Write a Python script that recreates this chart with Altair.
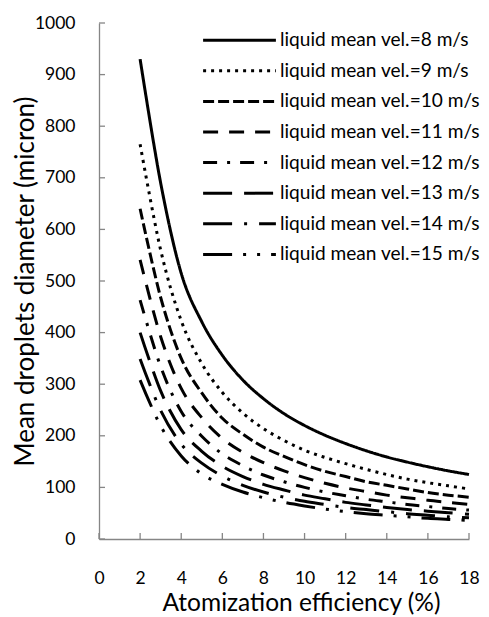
import altair as alt
import pandas as pd

# Atomization efficiency (%) at which the curves are sampled
efficiency = [2, 3, 4, 5, 6, 7, 8, 9, 10, 11, 12, 13, 14, 15, 16, 17, 18]

velocities = [8, 9, 10, 11, 12, 13, 14, 15]

# Mean droplets diameter (micron)
d_v8 = [930, 690, 515, 421, 356, 308, 272, 243, 220, 201, 185, 171, 159, 149, 140, 132, 125]
d_v9 = [765, 560, 423, 340, 284, 244, 214, 191, 172, 158, 146, 135, 125, 116, 109, 103, 97]
d_v10 = [640, 468, 350, 283, 234, 203, 178, 160, 144, 131, 121, 111, 104, 97, 90, 85, 81]
d_v11 = [541, 392, 292, 235, 195, 168, 148, 132, 119, 108, 99, 92, 85, 80, 75, 71, 67]
d_v12 = [463, 334, 247, 199, 165, 142, 124, 111, 100, 91, 84, 77, 72, 67, 63, 59, 56]
d_v13 = [400, 287, 212, 170, 141, 121, 106, 95, 85, 78, 71, 66, 61, 57, 54, 51, 48]
d_v14 = [349, 249, 184, 147, 122, 104, 91, 81, 73, 67, 61, 57, 53, 49, 46, 43, 41]
d_v15 = [308, 219, 161, 126, 106, 91, 80, 71, 64, 58, 53, 49, 46, 43, 40, 38, 36]

series = [d_v8, d_v9, d_v10, d_v11, d_v12, d_v13, d_v14, d_v15]
labels = [f"liquid mean vel.={v} m/s" for v in velocities]
dashes = [[1, 0], [3, 5], [11, 4], [15, 11], [14, 10, 3, 10],
          [29, 12], [29, 12, 3, 12], [29, 11, 3, 11, 3, 11]]

x_ticks = list(range(0, 19, 2))
y_ticks = list(range(0, 1001, 100))

rows = []
for lab, vals in zip(labels, series):
    for x, d in zip(efficiency, vals):
        rows.append({"eff": x, "diam": d, "series": lab})
df = pd.DataFrame(rows)

W, H = 370, 516
AX = "#868686"
FONT = "Lato"

xscale = alt.Scale(domain=[0, 18], nice=False, zero=False)
yscale = alt.Scale(domain=[0, 1000], nice=False)

x_axis = alt.Axis(
    values=x_ticks, format="d", title="Atomization efficiency (%)",
    titleX=202, titleY=71, titleBaseline="alphabetic", titleAlign="center",
    labelPadding=30)
y_axis = alt.Axis(
    values=y_ticks, format="d", title="Mean droplets diameter (micron)",
    titleX=-66, titleY=258, titleAngle=270, titleBaseline="alphabetic",
    titleAlign="center", titleFontSize=26, labelPadding=24)

lines = alt.Chart(df).mark_line(
    interpolate="cardinal", strokeWidth=3, color="black"
).encode(
    x=alt.X("eff:Q", scale=xscale, axis=x_axis),
    y=alt.Y("diam:Q", scale=yscale, axis=y_axis),
    strokeDash=alt.StrokeDash(
        "series:N", sort=labels,
        scale=alt.Scale(domain=labels, range=dashes),
        legend=alt.Legend(
            title=None, orient="none", legendX=125, legendY=1.7,
            symbolType="M-2.6,0H2.6", symbolSize=784, symbolStrokeWidth=3,
            symbolStrokeColor="black", labelFont=FONT, labelFontSize=19.1,
            labelColor="black", labelOffset=25, rowPadding=4.6, padding=0,
            labelLimit=400)),
)

# inward tick marks (Excel style), placed through the same scales
xt = alt.Chart(pd.DataFrame({"eff": x_ticks})).mark_rule(color=AX, strokeWidth=1.3).encode(
    x=alt.X("eff:Q", scale=xscale, axis=x_axis),
    y=alt.value(H), y2=alt.value(H - 6),
)
yt = alt.Chart(pd.DataFrame({"diam": y_ticks})).mark_rule(color=AX, strokeWidth=1.3).encode(
    y=alt.Y("diam:Q", scale=yscale, axis=y_axis),
    x=alt.value(0), x2=alt.value(6),
)

chart = alt.layer(lines, xt, yt).properties(
    width=W, height=H,
    autosize=alt.AutoSizeParams(type="none"),
    padding={"left": 91, "top": 15, "right": 12, "bottom": 78},
    background="white",
).configure_view(stroke=None).configure_axis(
    grid=False, ticks=False, tickSize=0,
    domainColor=AX, domainWidth=1.3,
    labelFont=FONT, labelFontSize=17.5, labelColor="black",
    titleFont=FONT, titleFontSize=24.5, titleFontWeight="normal", titleColor="black",
    labelFlush=False, labelOverlap=False,
)

chart.save("out.html", embed_options={"renderer": "svg", "actions": False})
